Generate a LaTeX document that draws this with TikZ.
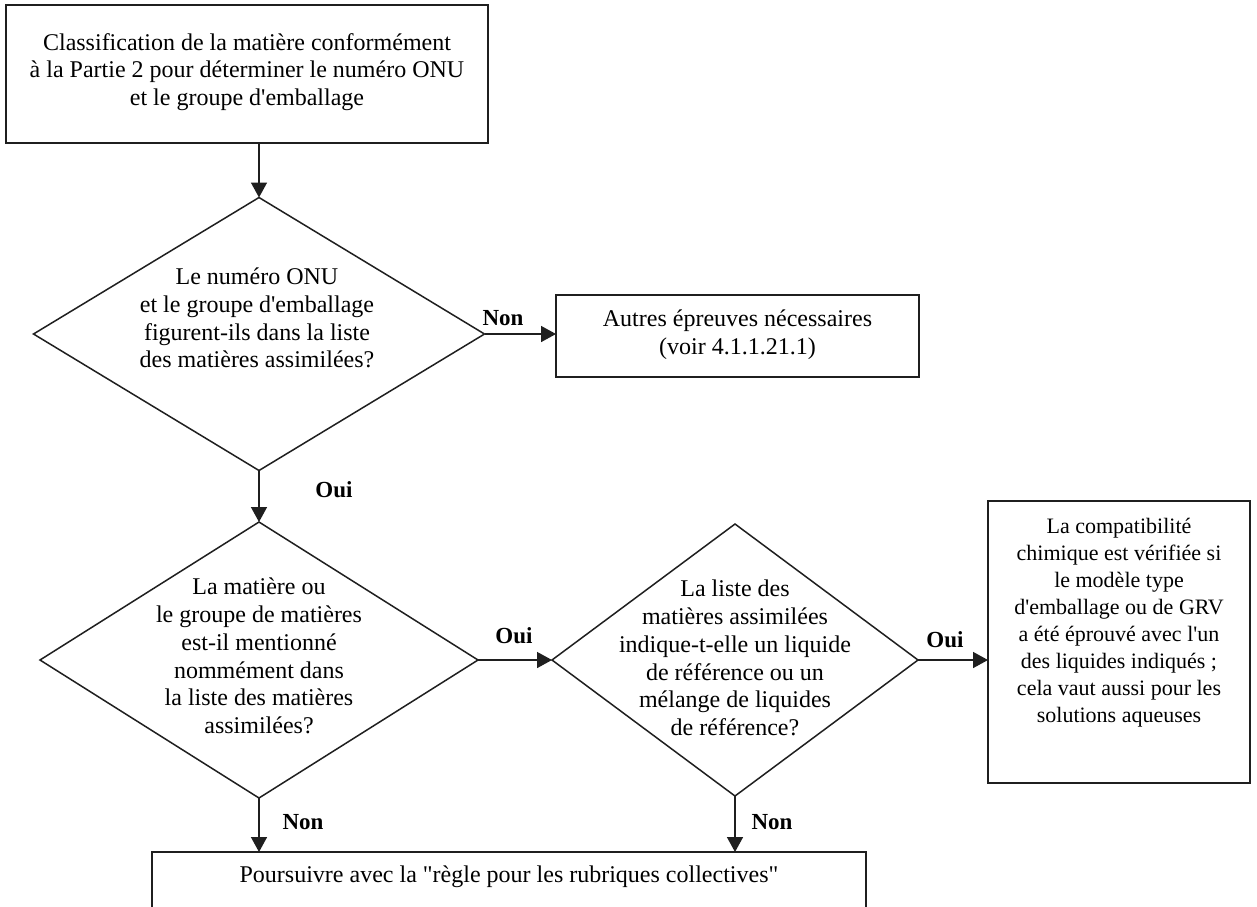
\documentclass[tikz,border=0pt]{standalone}
\usepackage{fontspec}
\setmainfont{Liberation Serif}[Ligatures=TeXOff]
\usetikzlibrary{shapes.geometric,arrows.meta}
\begin{document}
\begin{tikzpicture}[x=1pt,y=-1pt,
  box/.style={draw=black!88, line width=2pt, rectangle, inner sep=0pt, outer sep=0pt},
  dec/.style={draw=black!88, line width=1.5pt, diamond, inner sep=0pt, outer sep=0pt},
  txt/.style={align=center, font=\fontsize{24}{27.8}\selectfont, inner sep=0pt},
  lbl/.style={font=\fontsize{23}{27.5}\selectfont\bfseries, inner sep=0pt},
  arr/.style={line width=1.5pt, draw=black!88, -{Triangle[length=15pt,width=16pt]}},
]
\useasboundingbox (0,0) rectangle (1257,906);
\clip (0,0) rectangle (1257,906);
\fill[white] (0,0) rectangle (1257,906);

% shapes
\node[box, minimum width=482pt, minimum height=138pt] (top) at (247,74) {};
\node[txt] (toptext) at (247,72) {Classification de la matière conformément\\à la Partie 2 pour déterminer le numéro ONU\\et le groupe d'emballage};

\node[dec, minimum width=451pt, minimum height=273pt] (d1) at (259,334) {};
\node[txt] (d1text) at (257,318) {Le numéro ONU\\et le groupe d'emballage\\figurent-ils dans la liste\\des matières assimilées?};

\node[box, minimum width=363pt, minimum height=82pt] (box2) at (737.5,336) {};
\node[txt] (box2text) at (737.5,335) {Autres épreuves nécessaires\\(voir 4.1.1.21.1)};

\node[dec, minimum width=438pt, minimum height=276pt] (d2) at (259,660) {};
\node[txt] (d2text) at (259,656) {La matière ou\\le groupe de matières\\est-il mentionné\\nommément dans\\la liste des matières\\assimilées?};

\node[dec, minimum width=366pt, minimum height=272pt] (d3) at (735,660) {};
\node[txt] (d3text) at (735,658) {La liste des\\matières assimilées\\indique-t-elle un liquide\\de référence ou un\\mélange de liquides\\de référence?};

\node[box, minimum width=262pt, minimum height=282pt] (box4) at (1119,642) {};
\node[txt, font=\fontsize{22}{27}\selectfont] (box4text) at (1119,623) {La compatibilité\\chimique est vérifiée si\\le modèle type\\d'emballage ou de GRV\\a été éprouvé avec l'un\\des liquides indiqués ;\\cela vaut aussi pour les\\solutions aqueuses};

\node[box, minimum width=714pt, minimum height=108pt] (bot) at (509,906) {};
\node[txt] (bottext) at (509,877) {Poursuivre avec la "règle pour les rubriques collectives"};

% connectors
\draw[arr] (top.south -| d1.north) -- (d1.north);
\draw[arr] (d1.east) -- (box2.west |- d1.east);
\draw[arr] (d1.south) -- (d2.north);
\draw[arr] (d2.east) -- (d3.west);
\draw[arr] (d3.east) -- (box4.west |- d3.east);
\draw[arr] (d2.south) -- (d2.south |- bot.north);
\draw[arr] (d3.south) -- (d3.south |- bot.north);

% labels
\node[lbl] (lnon1) at (503,318) {Non};
\node[lbl] (loui1) at (334,490) {Oui};
\node[lbl] (loui2) at (514,636) {Oui};
\node[lbl] (loui3) at (945,640) {Oui};
\node[lbl] (lnon2) at (303,822) {Non};
\node[lbl] (lnon3) at (772,822) {Non};
\end{tikzpicture}
\end{document}
